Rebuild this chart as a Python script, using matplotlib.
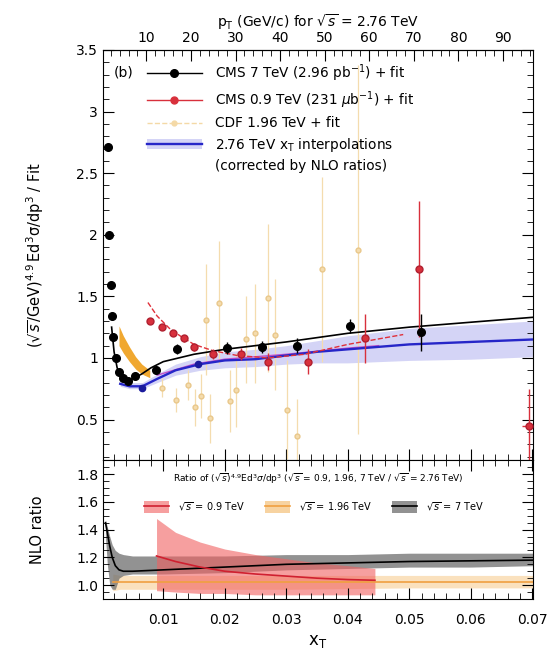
import numpy as np
import matplotlib
matplotlib.use('Agg')
import matplotlib.pyplot as plt
from matplotlib.lines import Line2D
from matplotlib.patches import Patch
from matplotlib.ticker import MultipleLocator, FixedLocator

plt.rcParams['font.family'] = ['DejaVu Sans']

# CMS 7 TeV data / fit
cms7_x = [0.00096, 0.00118, 0.00145, 0.00161, 0.00183, 0.00227, 0.0028, 0.0035, 0.0043, 0.0054,
          0.0088, 0.0123, 0.0203, 0.0260, 0.0317, 0.0404, 0.0519]
cms7_y = [2.71, 2.00, 1.59, 1.34, 1.17, 1.00, 0.89, 0.84, 0.81, 0.85,
          0.90, 1.07, 1.08, 1.09, 1.10, 1.26, 1.21]
cms7_err = [0.02, 0.02, 0.02, 0.02, 0.02, 0.02, 0.02, 0.02, 0.02, 0.02,
            0.03, 0.04, 0.05, 0.05, 0.06, 0.06, 0.15]
cms7_fit_x = [0.0016, 0.002, 0.0025, 0.003, 0.004, 0.005, 0.0065, 0.008, 0.01, 0.015,
              0.02, 0.03, 0.04, 0.05, 0.06, 0.0701]
cms7_fit_y = [1.25, 1.05, 0.92, 0.86, 0.82, 0.83, 0.87, 0.92, 0.97, 1.03,
              1.07, 1.13, 1.20, 1.25, 1.29, 1.33]

# CMS 0.9 TeV data / fit
cms09_x = [0.0078, 0.0098, 0.0115, 0.0133, 0.0150, 0.0181, 0.0226, 0.0271, 0.0336, 0.0428, 0.0516, 0.0695]
cms09_y = [1.30, 1.25, 1.20, 1.16, 1.09, 1.03, 1.03, 0.97, 0.97, 1.16, 1.72, 0.45]
cms09_err = [0.02, 0.02, 0.02, 0.03, 0.03, 0.04, 0.05, 0.07, 0.10, 0.20, 0.55, 0.30]
cms09_xerr = [0, 0, 0, 0, 0, 0, 0, 0, 0, 0, 0, 0.0012]
cms09_fit_x = [0.0075, 0.009, 0.011, 0.013, 0.015, 0.018, 0.022, 0.027, 0.033, 0.04, 0.049]
cms09_fit_y = [1.45, 1.34, 1.24, 1.17, 1.11, 1.06, 1.02, 1.00, 1.03, 1.11, 1.19]

# CDF 1.96 TeV data / fit
cdf_x = [0.0098, 0.0120, 0.0140, 0.0152, 0.0162, 0.0169, 0.0176, 0.0191, 0.0209, 0.0219,
         0.0235, 0.0249, 0.0270, 0.0282, 0.0301, 0.0317, 0.0358, 0.0417]
cdf_y = [0.76, 0.66, 0.78, 0.60, 0.69, 1.31, 0.51, 1.45, 0.65, 0.74,
         1.15, 1.20, 1.49, 1.19, 0.58, 0.37, 1.72, 1.88]
cdf_err = [0.08, 0.10, 0.12, 0.15, 0.18, 0.45, 0.20, 0.50, 0.25, 0.30,
           0.35, 0.40, 0.60, 0.45, 0.40, 0.30, 0.75, 1.50]
cdf_fit_x = [0.0028, 0.0035, 0.0045, 0.0055, 0.0065, 0.0078]
cdf_fit_y = [1.18, 1.11, 1.03, 0.96, 0.91, 0.87]
cdf_fit_half = [0.08, 0.07, 0.06, 0.05, 0.04, 0.03]

# 2.76 TeV interpolation
interp_x = [0.0030, 0.0045, 0.0066, 0.009, 0.012, 0.016, 0.02, 0.025, 0.03, 0.035, 0.04, 0.05, 0.06, 0.0701]
interp_y = [0.79, 0.77, 0.77, 0.83, 0.90, 0.95, 0.98, 0.99, 1.02, 1.05, 1.07, 1.11, 1.13, 1.15]
interp_lo = [0.77, 0.75, 0.75, 0.80, 0.86, 0.90, 0.92, 0.93, 0.95, 0.96, 0.96, 0.98, 0.99, 1.01]
interp_hi = [0.82, 0.80, 0.80, 0.87, 0.95, 1.01, 1.05, 1.07, 1.10, 1.14, 1.18, 1.24, 1.27, 1.30]
interp_pts_x = [0.0066, 0.0157]
interp_pts_y = [0.76, 0.95]
alt_x = [0.009, 0.015, 0.02, 0.03, 0.04, 0.045]
alt_y = [0.86, 0.95, 0.99, 1.03, 1.08, 1.10]

# NLO ratios (lower panel)
nlo7_x = [0.0006, 0.0009, 0.0013, 0.0017, 0.0022, 0.0028, 0.0035, 0.005, 0.01, 0.02, 0.03, 0.04, 0.05, 0.06, 0.0701]
nlo7_y = [1.45, 1.38, 1.28, 1.20, 1.14, 1.11, 1.10, 1.10, 1.11, 1.13, 1.15, 1.16, 1.17, 1.175, 1.18]
nlo7_lo = [1.35, 1.15, 1.00, 0.97, 0.97, 1.05, 1.07, 1.08, 1.08, 1.09, 1.11, 1.12, 1.13, 1.13, 1.14]
nlo7_hi = [1.47, 1.42, 1.35, 1.29, 1.25, 1.23, 1.22, 1.21, 1.21, 1.21, 1.22, 1.22, 1.23, 1.23, 1.23]
nlo196_x = [0.0018, 0.003, 0.01, 0.03, 0.05, 0.0701]
nlo196_y = [1.02, 1.02, 1.02, 1.02, 1.02, 1.02]
nlo196_lo = [0.96, 0.97, 0.97, 0.97, 0.98, 0.98]
nlo196_hi = [1.08, 1.07, 1.07, 1.07, 1.07, 1.07]
nlo09_x = [0.0089, 0.012, 0.016, 0.02, 0.025, 0.03, 0.035, 0.04, 0.0444]
nlo09_y = [1.21, 1.17, 1.13, 1.10, 1.08, 1.065, 1.05, 1.04, 1.035]
nlo09_lo = [0.96, 0.95, 0.94, 0.94, 0.93, 0.93, 0.93, 0.93, 0.93]
nlo09_hi = [1.48, 1.38, 1.31, 1.26, 1.22, 1.19, 1.16, 1.14, 1.12]

pt_ticks = [10, 20, 30, 40, 50, 60, 70, 80, 90]
xlim = (0.0002, 0.0701)
sqrt_s = 2760.0

fig = plt.figure(figsize=(5.52, 6.66), dpi=100)
ax = fig.add_axes([0.1866, 0.309, 0.779, 0.616])
axr = fig.add_axes([0.1866, 0.1006, 0.779, 0.2084], sharex=ax)

# main panel
ax.fill_between(interp_x, interp_lo, interp_hi, color='#d4d4f6', lw=0)
ax.fill_between(cdf_fit_x, np.subtract(cdf_fit_y, cdf_fit_half), np.add(cdf_fit_y, cdf_fit_half),
                color='#f0a830', lw=0)
ax.errorbar(cdf_x, cdf_y, yerr=cdf_err, fmt='o', ms=3.5, color='#f4dcae', mec='#e9c78a',
            elinewidth=0.9, capsize=0, zorder=2)
ax.plot(alt_x, alt_y, color='#c04fc8', lw=1.0, zorder=3)
ax.plot(interp_x, interp_y, color='#2626c8', lw=1.7, zorder=4)
ax.plot(interp_pts_x, interp_pts_y, 'o', color='#1a1a9c', ms=4.5, zorder=5)
ax.plot(cms09_fit_x, cms09_fit_y, color='#e0303a', lw=1.0, ls='--', zorder=4)
ax.errorbar(cms09_x, cms09_y, yerr=cms09_err, xerr=cms09_xerr, fmt='o', ms=5, color='#d8303c',
            mec='#b02030', elinewidth=1.0, capsize=0, zorder=5)
ax.plot(cms7_fit_x, cms7_fit_y, color='black', lw=1.2, zorder=4)
ax.errorbar(cms7_x, cms7_y, yerr=cms7_err, fmt='o', ms=5.5, color='black',
            elinewidth=1.0, capsize=0, zorder=6)

ax.set_xlim(*xlim)
ax.set_ylim(0.17, 3.5)
ax.yaxis.set_major_locator(MultipleLocator(0.5))
ax.yaxis.set_minor_locator(MultipleLocator(0.1))
ax.xaxis.set_major_locator(MultipleLocator(0.01))
ax.xaxis.set_minor_locator(MultipleLocator(0.002))
ax.tick_params(which='both', direction='in', right=True, top=False, labelbottom=False, labelsize=10)
ax.tick_params(which='major', length=8)
ax.tick_params(which='minor', length=4)
ax.set_yticks([0.5, 1, 1.5, 2, 2.5, 3, 3.5])
ax.set_yticklabels(['0.5', '1', '1.5', '2', '2.5', '3', '3.5'])
ax.set_ylabel(r'$(\sqrt{s}/\mathrm{GeV})^{4.9}\,\mathrm{E d^3\sigma/dp^3}$ / Fit', fontsize=10.5, labelpad=22)

top = ax.secondary_xaxis('top', functions=(lambda x: x * sqrt_s / 2, lambda p: p * 2 / sqrt_s))
top.xaxis.set_major_locator(FixedLocator(pt_ticks))
top.xaxis.set_minor_locator(MultipleLocator(2))
top.set_xticklabels([str(p) for p in pt_ticks])
top.tick_params(which='both', direction='in', labelsize=10)
top.tick_params(which='major', length=8)
top.tick_params(which='minor', length=4)
top.set_xlabel(r'p$_\mathrm{T}$ (GeV/c) for $\sqrt{s}$ = 2.76 TeV', fontsize=10, labelpad=3)

ax.text(0.025, 0.945, '(b)', transform=ax.transAxes, fontsize=10, va='center')
handles = [
    Line2D([], [], color='black', marker='o', ms=5.5, lw=1),
    Line2D([], [], color='#d8303c', marker='o', ms=5, lw=1),
    Line2D([], [], color='#f4d9a6', marker='o', ms=3.5, lw=1, ls='--'),
    (Patch(color='#d4d4f6', lw=0), Line2D([], [], color='#2626c8', lw=1.7)),
    Line2D([], [], color='none'),
]
labels = [r'CMS 7 TeV (2.96 pb$^{-1}$) + fit',
          r'CMS 0.9 TeV (231 $\mu$b$^{-1}$) + fit',
          'CDF 1.96 TeV + fit',
          r'2.76 TeV x$_\mathrm{T}$ interpolations',
          '(corrected by NLO ratios)']
ax.legend(handles, labels, loc='upper left', bbox_to_anchor=(0.09, 0.983), frameon=False,
          fontsize=9.8, handlelength=4.0, handletextpad=1.0, labelspacing=0.4, borderaxespad=0)

# lower panel
axr.fill_between(nlo196_x, nlo196_lo, nlo196_hi, color='#f6c98a', alpha=0.55, lw=0)
axr.fill_between(nlo7_x, nlo7_lo, nlo7_hi, color='#6e6e6e', alpha=0.75, lw=0)
axr.fill_between(nlo09_x, nlo09_lo, nlo09_hi, color='#f06060', alpha=0.6, lw=0)
axr.plot(nlo196_x, nlo196_y, color='#f0a040', lw=1.2)
axr.plot(nlo7_x, nlo7_y, color='black', lw=1.2)
axr.plot(nlo09_x, nlo09_y, color='#d02030', lw=1.2)

axr.set_xlim(*xlim)
axr.set_ylim(0.9, 1.9)
axr.yaxis.set_minor_locator(MultipleLocator(0.05))
axr.set_yticks([1.0, 1.2, 1.4, 1.6, 1.8])
axr.set_yticklabels(['1.0', '1.2', '1.4', '1.6', '1.8'])
axr.tick_params(which='both', direction='in', right=True, top=True, labelsize=10)
axr.tick_params(which='major', length=8)
axr.tick_params(which='minor', length=4)
axr.tick_params(axis='x', pad=10)
axr.set_xticks([0.01, 0.02, 0.03, 0.04, 0.05, 0.06, 0.07])
axr.set_xticklabels(['0.01', '0.02', '0.03', '0.04', '0.05', '0.06', '0.07'])
axr.set_ylabel('NLO ratio', fontsize=10.5, labelpad=22)
axr.set_xlabel(r'x$_\mathrm{T}$', fontsize=12, labelpad=4)

axr.text(0.5, 0.87, r'Ratio of $(\sqrt{s})^{4.9}$Ed$^3\sigma$/dp$^3$ ($\sqrt{s}$ = 0.9, 1.96, 7 TeV / $\sqrt{s}$ = 2.76 TeV)',
         transform=axr.transAxes, ha='center', va='center', fontsize=6.5)
rhandles = [
    (Patch(color='#f06060', alpha=0.6, lw=0), Line2D([], [], color='#d02030', lw=1.2)),
    (Patch(color='#f6c98a', alpha=0.8, lw=0), Line2D([], [], color='#f0a040', lw=1.2)),
    (Patch(color='#6e6e6e', alpha=0.75, lw=0), Line2D([], [], color='black', lw=1.2)),
]
rlabels = [r'$\sqrt{s}$ = 0.9 TeV', r'$\sqrt{s}$ = 1.96 TeV', r'$\sqrt{s}$ = 7 TeV']
axr.legend(rhandles, rlabels, loc='upper center', bbox_to_anchor=(0.49, 0.74), ncol=3, frameon=False,
           fontsize=7, handlelength=2.6, handleheight=1.4, handletextpad=0.9, columnspacing=2.0,
           borderaxespad=0)

fig.savefig('out.png', dpi=100)
